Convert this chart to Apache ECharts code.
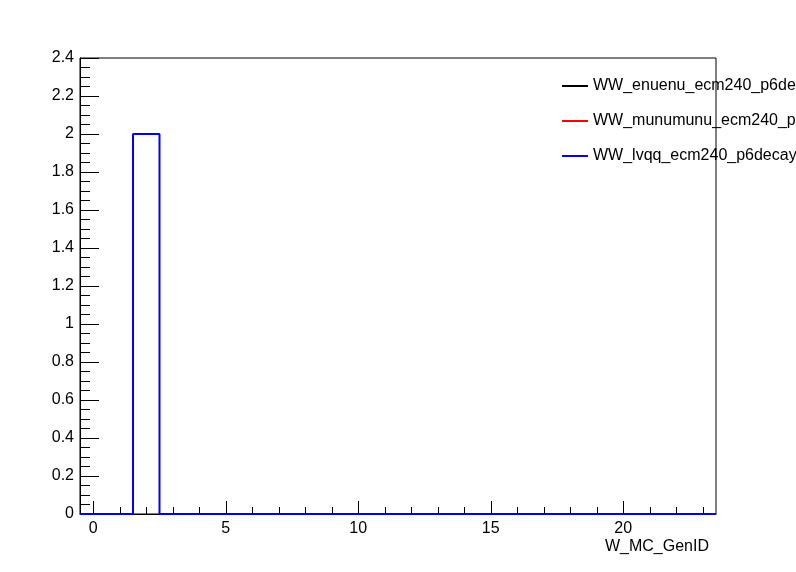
<!DOCTYPE html>
<html>
<head>
<meta charset="utf-8">
<script src="https://cdn.jsdelivr.net/npm/echarts@6/dist/echarts.min.js"></script>
<style>html,body{margin:0;padding:0;background:#fff;}#c{width:796px;height:572px;}</style>
</head>
<body>
<div id="c"></div>
<script>
// Bin centers (W_MC_GenID), unit-width bins
const binCenters = [0,1,2,3,4,5,6,7,8,9,10,11,12,13,14,15,16,17,18,19,20,21,22,23];
const seriesNames = ["WW_enuenu_ecm240_p6decay", "WW_munumunu_ecm240_p6decay", "WW_lvqq_ecm240_p6decay"];
const enuenuValues   = [0,0,0,0,0,0,0,0,0,0,0,0,0,0,0,0,0,0,0,0,0,0,0,0];
const munumunuValues = [0,0,0,0,0,0,0,0,0,0,0,0,0,0,0,0,0,0,0,0,0,0,0,0];
const lvqqValues     = [0,0,2,0,0,0,0,0,0,0,0,0,0,0,0,0,0,0,0,0,0,0,0,0];
const xMajorTicks = [0,5,10,15,20];
const xMinorTicks = [0,1,2,3,4,5,6,7,8,9,10,11,12,13,14,15,16,17,18,19,20,21,22,23];
const colors = ["#000000", "#ff0000", "#0000ff"];

// Outline of a histogram from its bin edges; an empty histogram draws nothing
function histPoints(vals) {
  const total = vals.reduce((a, b) => a + b, 0);
  if (total === 0) return [];
  const pts = [];
  for (let i = 0; i < binCenters.length; i++) pts.push([binCenters[i] - 0.5, vals[i]]);
  pts.push([binCenters[binCenters.length - 1] + 0.5, vals[vals.length - 1]]);
  return pts;
}

const font = "'Liberation Sans', Arial, Helvetica, sans-serif";
const chart = echarts.init(document.getElementById('c'), null, {renderer: 'canvas'});
const allVals = [enuenuValues, munumunuValues, lvqqValues];
chart.setOption({
  animation: false,
  backgroundColor: '#ffffff',
  grid: {left: 80, right: 80, top: 58, bottom: 58, show: true, borderColor: '#000', borderWidth: 1, backgroundColor: 'transparent'},
  legend: {
    orient: 'vertical', left: 557, top: 73,
    icon: 'rect', itemWidth: 26, itemHeight: 2, itemGap: 19,
    textStyle: {fontFamily: font, fontSize: 16, color: '#000', lineHeight: 16},
    data: seriesNames
  },
  xAxis: [{
    type: 'value', min: -0.5, max: 23.5,
    axisLine: {onZero: false, lineStyle: {color: '#000', width: 1}},
    axisTick: {inside: true, length: 13, customValues: xMajorTicks, lineStyle: {color: '#000'}},
    axisLabel: {customValues: xMajorTicks, fontFamily: font, fontSize: 16, color: '#000', margin: 7},
    splitLine: {show: false},
    name: 'W_MC_GenID', nameLocation: 'end', nameGap: -7,
    nameTextStyle: {fontFamily: font, fontSize: 16, color: '#000', align: 'right', verticalAlign: 'top', padding: [25, 0, 0, 0]}
  }, {
    type: 'value', min: -0.5, max: 23.5, position: 'bottom',
    axisLine: {show: false, onZero: false},
    axisTick: {inside: true, length: 7, customValues: xMinorTicks, lineStyle: {color: '#000'}},
    axisLabel: {show: false},
    splitLine: {show: false}
  }],
  yAxis: {
    type: 'value', min: 0, max: 2.4, interval: 0.2,
    axisLine: {show: true, onZero: false, lineStyle: {color: '#000', width: 1}},
    axisTick: {inside: true, length: 19, lineStyle: {color: '#000'}},
    minorTick: {show: true, splitNumber: 4, length: 10, lineStyle: {color: '#000'}},
    axisLabel: {fontFamily: font, fontSize: 16, color: '#000', margin: 6},
    splitLine: {show: false}
  },
  series: seriesNames.map((n, i) => ({
    name: n, type: 'line', step: 'end', xAxisIndex: 0,
    data: histPoints(allVals[i]),
    showSymbol: false, symbol: 'none',
    lineStyle: {color: colors[i], width: 2},
    itemStyle: {color: colors[i]},
    clip: false
  }))
});
</script>
</body>
</html>
